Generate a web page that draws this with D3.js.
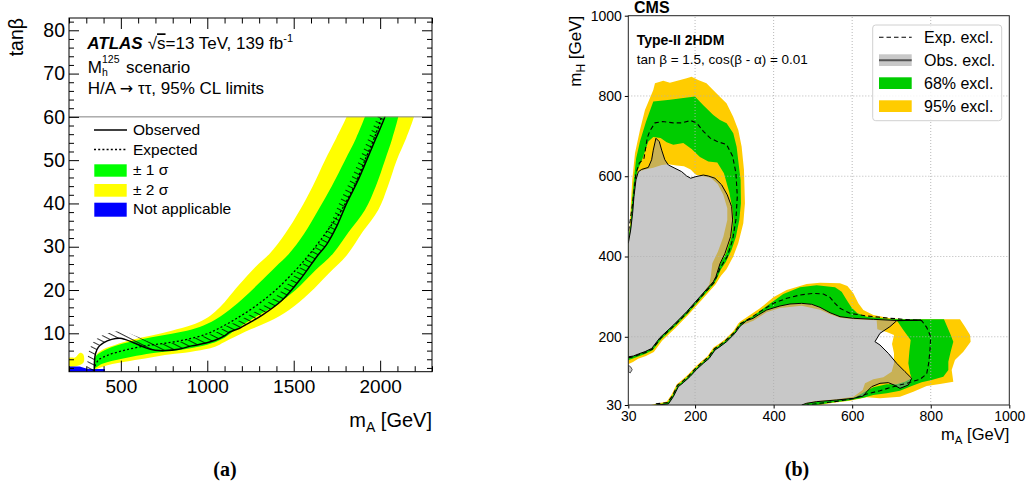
<!DOCTYPE html>
<html>
<head>
<meta charset="utf-8">
<script src="https://cdn.jsdelivr.net/npm/d3@7"></script>
<style>
  body { margin: 0; background: #fff; }
  svg { display: block; font-family: "Liberation Sans", Arial, Helvetica, sans-serif; }
</style>
</head>
<body>
<svg width="1029" height="489"></svg>
<script>
// ---------- (a) ATLAS H/A -> tautau, points are [mA GeV, tanBeta]
const obsA = [[346.6,1.13],[346.6,2.5],[348,3.8],[354,5.4],[370,6.8],[399,7.8],[447,8.6],[495,8.85],[524,8.6],[582,7.7],[640,6.7],[698,6.1],[755,6.0],[833,6.3],[910,7.1],[987,7.7],[1045,8.4],[1100,9.4],[1130,10.3],[1183,11.1],[1250,12.6],[1318,14.2],[1434,17.7],[1550,23.1],[1633,27.7],[1690,30.5],[1752,35],[1806,40],[1868,45],[1922,50],[1975,55],[2027,60],[2035,61.5]];
const expA = [[350,2.4],[370,3.8],[428,5.0],[524,6.1],[640,7.1],[755,7.7],[871,8.5],[987,9.7],[1060,11],[1164,13.3],[1280,16.3],[1396,20],[1511,24.6],[1600,28.7],[1700,34],[1777,38.5],[1850,44],[1912,50],[1965,55],[2008,60],[2016,61.5]];
const band68UpA = [[350,2.8],[354,4.6],[389,5.75],[466,7.06],[563,8.1],[678,9.1],[794,9.9],[910,10.9],[1000,12.2],[1100,14.6],[1200,17.8],[1300,21.6],[1396,25.4],[1469,28.2],[1560,33],[1642,38.5],[1720,44],[1797,50],[1860,55],[1912,60],[1925,61.5]];
const band68LoA = [[350,1.9],[389,2.9],[466,3.8],[563,4.6],[678,5.4],[794,5.9],[910,6.6],[1026,7.7],[1100,9.0],[1164,10.8],[1280,13.8],[1396,16.5],[1511,20],[1627,24.6],[1729,28.5],[1820,33.5],[1912,38.5],[1975,44],[2028,50],[2070,55],[2105,60],[2112,61.5]];
const band95UpA = [[348,2.8],[358,5.0],[399,6.3],[466,7.3],[563,8.5],[678,9.5],[794,10.6],[910,11.9],[987,13.3],[1045,15.0],[1100,17.2],[1164,20.3],[1280,25.4],[1363,28.5],[1450,33],[1536,38.5],[1610,44],[1681,50],[1745,55],[1806,60],[1818,61.5]];
const band95LoA = [[350,1.6],[428,2.7],[524,3.45],[640,4.2],[755,5.0],[871,5.5],[987,6.3],[1045,6.9],[1100,8.0],[1222,10.4],[1357,12.7],[1473,15.4],[1588,19.2],[1704,23.9],[1806,28],[1900,33.5],[1989,38.5],[2045,44],[2096,50],[2150,55],[2196,60],[2205,61.5]];
const blobA = [[200,2.3],[230,2.3],[260,2.6],[283,3.2],[288,4.2],[281,5.2],[266,5.5],[250,5.0],[235,4.4],[200,4.3]];
const notApplicableA = [[200,1.13],[200,2.35],[262,2.35],[290,2.0],[312,1.75],[408,1.75],[408,1.13]];
const xTicksA = [500, 1000, 1500, 2000];
const yTicksA = [10, 20, 30, 40, 50, 60, 70, 80];
const legendA = ["Observed", "Expected", "\u00b1 1 \u03c3", "\u00b1 2 \u03c3", "Not applicable"];

// ---------- (b) CMS type-II 2HDM, points are [mA, mH] in GeV
// upper island (touches the left edge)
const uiObsB = [[30,150],[42.8,152],[55.5,157],[72.6,163],[89.6,171],[110.8,198],[144.7,229],[178.7,262.5],[212.5,299.9],[246.4,337],[253,349.8],[263.4,382],[276,407.5],[290.5,449.4],[295.6,491],[293,524.6],[282,553.5],[267.6,578.6],[250.6,595],[233.7,600.6],[221,603],[202,599],[188.7,595],[178.5,600.7],[165.8,611.5],[148.8,619.8],[132,628],[123,641],[115,665],[109,686],[100.4,694.6],[93.6,665],[89.4,641],[81,622],[64,617],[55.5,611],[49.5,591],[44.4,549],[41,508],[36,466],[30,433]];
const uiY95OutB = [[20,128],[42,137],[55,145],[75,152],[95,162],[116,190],[150,222],[184,256],[218,293],[252,330],[266,352],[280,368],[297,399.7],[310,433],[322.8,482.7],[327,532.6],[324.5,616],[318.5,674],[310,715],[297,748.5],[280,782],[263,798],[246,815],[229,832],[208,840],[191,848],[178.5,844],[136,833],[119,838],[97.9,831.6],[93.6,815],[72.4,765],[59.7,715.3],[47,657],[40,590],[36.5,532],[34,480],[30,433],[20,433]];
const uiG68OutB = [[20,138],[42,146],[55.5,151],[74,158],[92.6,167],[113.8,194],[147.7,225],[181.7,258.5],[215.5,296],[249,333],[258,350],[266,368],[278.6,387],[293,416.6],[304,449.4],[312.6,491],[316.8,532.6],[316,590.7],[311.7,624],[305.8,673.6],[297.3,707],[280.3,731.8],[263.4,740],[246.4,752.5],[221,777],[199.7,798.4],[136,790.8],[93.6,786],[75,736],[59.7,686.6],[50,645],[44,590],[39,532],[36,480],[30,445],[20,445]];
const uiG68InB = [[30,150],[42.8,152],[55.5,157],[72.6,163],[89.6,171],[110.8,198],[144.7,229],[178.7,262.5],[212.5,299.9],[246.4,337],[253,349.8],[264,382],[279,408],[293,449],[298,491],[295,520],[287,560],[273.5,607.5],[256.6,634.3],[233.7,637],[212.4,647.7],[191.2,667.7],[170,682.8],[144.6,678.7],[127.6,684.5],[112.3,695.3],[93.6,697.8],[81,686.6],[66.5,645],[53,613],[47,574],[42,516],[36.5,466],[30,437]];
const uiY95InB = [[30,150],[42.8,152],[55.5,157],[72.6,163],[89.6,171],[110.8,198],[144.7,229],[178.7,262.5],[212.5,299.9],[236,330],[240,350],[244,383],[258,412],[272,449],[282,491],[282,520],[272,553],[258,580],[240,596],[216.7,600.6],[202,603.9],[188.7,616.6],[171.7,624.9],[153,627],[132,630],[115,628],[93.6,621],[72.4,617],[55.5,611],[49.5,591],[44.4,549],[41,508],[36,466],[30,433]];
const uiExpB = [[30,148],[43,150],[56,155],[74,161],[91,169],[112,196],[146,227],[180,260],[214,298],[248,335],[256,352],[263.4,370.6],[282,400],[295.6,441.6],[304,491.8],[307.5,550],[304,608],[295.6,650],[280.3,678.9],[255,687],[238,695.6],[221,712],[204,733],[188.7,738.6],[165.8,733],[144.6,733],[117.4,736.3],[98,733],[85,713],[78.4,696],[70,645],[58,632.6],[49.5,607.5],[41,532.6],[32.5,474.4],[30,460]];
const uiNotchB = [[30,129],[36,125],[40,118],[35,110],[30,113]];
// lower island (touches the bottom edge)
const liObsB = [[102.2,30],[132,32.5],[144.6,50.7],[157.4,75.7],[170,85.6],[187,100.6],[204,118.8],[221,133.8],[236,146.2],[250.7,167],[263.4,175.3],[280.3,187.8],[301.6,208.6],[314.4,226],[331,240],[348,246],[361,254.3],[382.3,266.7],[416,276.7],[441.7,281.7],[471.4,283.3],[497,280.9],[518,273.4],[543.5,260],[569,250.1],[603,246],[654,243.5],[713.3,240.5],[775,241.5],[713.3,240],[696,225.2],[670.8,208.6],[658,187.8],[670.8,179.5],[692,158.8],[713.3,133.8],[734.5,113],[751.4,96.5],[743,79.8],[721.7,71.5],[706.5,79.8],[692,85.7],[670.8,84],[649.6,75.7],[636.9,63.2],[628.4,52.4],[603,46.6],[560.5,42.5],[509.6,38.3],[484,34.2],[471.4,30]];
const liY95OutB = [[88,20],[88,30],[128,38.5],[140.6,56.7],[153.4,81.7],[166,91.6],[183,106.6],[200,124.8],[217,139.8],[232,152.2],[246.7,173],[259.4,181.3],[276.3,193.8],[297.6,214.6],[310,233],[314.4,237.7],[339.9,254.3],[365.3,270.9],[399.3,298.3],[433.2,316.6],[484.1,331.5],[518,334.8],[569,333.2],[587.7,326.5],[603,308.3],[615.7,283.3],[628.4,266.7],[653.8,254.3],[696.3,246],[738.7,243.5],[874.5,243.5],[887.2,225.2],[900,204.4],[901.6,187.8],[883,162.9],[861.7,142.2],[853.3,117.2],[857.5,88.2],[823.6,82.3],[789.6,77.4],[755.7,63.2],[721.7,50.8],[670.8,46.6],[636.9,49.1],[594.4,40.8],[552,35.8],[518,30],[518,20]];
const liG68OutB = [[95,20],[95,30],[130,35.5],[142.6,53.7],[155.4,78.7],[168,88.6],[185,103.6],[202,121.8],[219,136.8],[234,149.2],[248.7,170],[261.4,178.3],[278.3,190.8],[299.6,211.6],[312.4,230],[314.4,233.5],[348.3,251.8],[382.3,276.7],[424.7,306.6],[467.1,323.2],[509.6,328.2],[556.3,323.2],[573.2,312.4],[586,291.6],[598.7,272.5],[613.1,258.4],[636.9,250.1],[696.3,244.3],[738.7,243.5],[833.7,243.5],[849,208.6],[857.5,187.8],[850.7,162.9],[844.8,138],[844.8,117.2],[832,100.6],[802.3,92.3],[776.9,86.5],[751.4,77.4],[721.7,65.7],[687.8,59.1],[653.8,54.9],[628.4,48.3],[586,40.8],[543.5,35.8],[509.6,30],[509.6,20]];
const liG68InB = [[102.2,30],[132,32.5],[144.6,50.7],[157.4,75.7],[170,85.6],[187,100.6],[204,118.8],[221,133.8],[236,146.2],[250.7,167],[263.4,175.3],[280.3,187.8],[301.6,208.6],[314.4,226],[331,240],[348,246],[361,254.3],[382.3,266.7],[416,276.7],[441.7,281.7],[471.4,283.3],[497,280.9],[518,273.4],[543.5,260],[569,250.1],[603,246],[654,243.5],[713,241.5],[730.2,216.9],[748.9,192],[745.5,162.9],[743,133.8],[747.2,108.9],[751.4,96.5],[734.5,88.2],[713.3,81.5],[687.8,81.5],[653.8,74],[632.6,63.2],[603,46.6],[560.5,42.5],[509.6,38.3],[484,34.2],[471.4,30]];
const liY95InB = [[102.2,30],[132,32.5],[144.6,50.7],[157.4,75.7],[170,85.6],[187,100.6],[204,118.8],[221,133.8],[236,146.2],[250.7,167],[263.4,175.3],[280.3,187.8],[301.6,208.6],[314.4,226.9],[348.3,240.2],[382.3,260.9],[416.2,271.7],[471.4,277.5],[518.1,267.6],[543.5,256],[569,247.6],[603,243.5],[662.3,241],[664,218.6],[687.8,211.9],[706.5,204.4],[701.4,182],[706.5,158.8],[706.5,133.8],[700.5,113.1],[679.3,99],[653.8,94],[632.6,84],[626.7,67.4],[603,50.8],[560.5,44.1],[509.6,40],[484,35.8],[471.4,30]];
const liExpB = [[100,33],[130,36],[143,54],[155,79],[168,89],[185,104],[202,122],[219,137],[234,150],[249,170],[261,178],[278,191],[300,211],[314.4,231.8],[339.9,246],[365.3,262.6],[399.3,283.3],[433.2,295.8],[467.1,304.1],[501.1,308.3],[526.6,306.6],[543.5,298.3],[556.3,283.3],[569,270.9],[594.4,258.4],[636.9,251.8],[696.3,246],[755.7,241.8],[776.9,240.2],[789.6,223.5],[799.8,200.3],[798.1,167],[794.7,133.8],[789.6,107.3],[772.6,94],[738.7,84],[704.8,75.7],[670.8,65.7],[636.9,57.4],[603,45.8],[560.5,39.1],[518,34.2],[484.1,30]];
const ticksB = [30, 200, 400, 600, 800, 1000];
const gridB = [200, 400, 600, 800];
const legendB = ["Exp. excl.", "Obs. excl.", "68% excl.", "95% excl."];

const font = '"Liberation Sans", Arial, Helvetica, sans-serif';
const svg = d3.select("svg");
const defs = svg.append("defs");

// ================= panel (a) =================
const xA = d3.scaleLinear().domain([200, 2300]).range([69, 432]);
const yA = d3.scaleLinear().domain([1.13, 82.84]).range([371.7, 18]);

defs.append("clipPath").attr("id", "clipA").append("rect")
  .attr("x", xA(200)).attr("y", yA(60))
  .attr("width", xA(2300) - xA(200)).attr("height", yA(1.13) - yA(60));

const hatch = defs.append("pattern").attr("id", "hatch")
  .attr("patternUnits", "userSpaceOnUse").attr("width", 5).attr("height", 5)
  .attr("patternTransform", "rotate(27)");
hatch.append("line").attr("x1", 0).attr("x2", 5).attr("y1", 2.5).attr("y2", 2.5)
  .attr("stroke", "#000").attr("stroke-width", 0.8);

const smoothA = d3.line().x(d => xA(d[0])).y(d => yA(d[1])).curve(d3.curveCatmullRom.alpha(0.5));
const plotA = svg.append("g").attr("clip-path", "url(#clipA)");

function bandA(up, lo, color) {
  plotA.append("path").attr("d", smoothA(up.concat(lo.slice().reverse())) + "Z").attr("fill", color);
}
bandA(band95UpA, band95LoA, "#ffff00");
bandA(band68UpA, band68LoA, "#00ff00");

plotA.append("path")
  .attr("d", d3.line().x(d => xA(d[0])).y(d => yA(d[1])).curve(d3.curveCatmullRomClosed)(blobA))
  .attr("fill", "#ffff00");
plotA.append("path")
  .attr("d", d3.line().x(d => xA(d[0])).y(d => yA(d[1])).curve(d3.curveLinearClosed)(notApplicableA))
  .attr("fill", "#0000ff");

// observed line, then a hatched strip on its excluded side
const obsPath = plotA.append("path").attr("d", smoothA(obsA))
  .attr("fill", "none").attr("stroke", "#000").attr("stroke-width", 1.5);
const node = obsPath.node();
const total = node.getTotalLength();
const W = 7;
const fwd = [], off = [];
for (let s = 0; s <= total; s += 1) {
  const p = node.getPointAtLength(s);
  const p0 = node.getPointAtLength(Math.max(0, s - 2));
  const p1 = node.getPointAtLength(Math.min(total, s + 2));
  let tx = p1.x - p0.x, ty = p1.y - p0.y;
  const n = Math.hypot(tx, ty) || 1;
  tx /= n; ty /= n;
  fwd.push([p.x, p.y]);
  off.push([p.x + ty * W, p.y - tx * W]);
}
plotA.insert("path", () => node)
  .attr("d", d3.line()(fwd.concat(off.reverse())) + "Z")
  .attr("fill", "url(#hatch)");

plotA.append("path").attr("d", smoothA(expA))
  .attr("fill", "none").attr("stroke", "#000").attr("stroke-width", 1.3)
  .attr("stroke-dasharray", "2,2.2");

// separator of the header area
svg.append("line").attr("x1", xA(200)).attr("x2", xA(2300)).attr("y1", yA(60)).attr("y2", yA(60))
  .attr("stroke", "#808080").attr("stroke-width", 1);

// ROOT style axes, ticks on all four sides pointing inward
function styleAxis(g, size) {
  g.select(".domain").remove();
  g.selectAll("line").attr("stroke", "#000");
  g.selectAll("text").attr("font-size", size).attr("font-family", font).attr("fill", "#000");
}
const minorXA = d3.range(200, 2301, 100).filter(v => v % 500 !== 0);
const minorYA = d3.range(2, 83, 2).filter(v => v % 10 !== 0);
const bottomA = yA.range()[0], topA = yA.range()[1];
const leftA = xA.range()[0], rightA = xA.range()[1];

svg.append("g").attr("transform", `translate(0,${bottomA})`)
  .call(d3.axisBottom(xA).tickValues(xTicksA).tickSize(-11).tickPadding(8).tickFormat(d3.format("d")))
  .call(g => styleAxis(g, 19));
svg.append("g").attr("transform", `translate(0,${bottomA})`)
  .call(d3.axisBottom(xA).tickValues(minorXA).tickSize(-5.5).tickFormat(""))
  .call(g => styleAxis(g, 19));
svg.append("g").attr("transform", `translate(0,${topA})`)
  .call(d3.axisTop(xA).tickValues(xTicksA).tickSize(-11).tickFormat(""))
  .call(g => styleAxis(g, 19));
svg.append("g").attr("transform", `translate(0,${topA})`)
  .call(d3.axisTop(xA).tickValues(minorXA).tickSize(-5.5).tickFormat(""))
  .call(g => styleAxis(g, 19));
svg.append("g").attr("transform", `translate(${leftA},0)`)
  .call(d3.axisLeft(yA).tickValues(yTicksA).tickSize(-10).tickPadding(4))
  .call(g => styleAxis(g, 19.5));
svg.append("g").attr("transform", `translate(${leftA},0)`)
  .call(d3.axisLeft(yA).tickValues(minorYA).tickSize(-5).tickFormat(""))
  .call(g => styleAxis(g, 19));
svg.append("g").attr("transform", `translate(${rightA},0)`)
  .call(d3.axisRight(yA).tickValues(yTicksA).tickSize(-10).tickFormat(""))
  .call(g => styleAxis(g, 19));
svg.append("g").attr("transform", `translate(${rightA},0)`)
  .call(d3.axisRight(yA).tickValues(minorYA).tickSize(-5).tickFormat(""))
  .call(g => styleAxis(g, 19));
svg.append("rect").attr("x", leftA).attr("y", topA)
  .attr("width", rightA - leftA).attr("height", bottomA - topA)
  .attr("fill", "none").attr("stroke", "#000").attr("stroke-width", 1);

// axis titles (a)
const tA = svg.append("text").attr("x", rightA).attr("y", 427).attr("text-anchor", "end")
  .attr("font-size", 20).attr("font-family", font);
tA.append("tspan").text("m");
tA.append("tspan").attr("dy", 5).attr("font-size", 14).text("A");
tA.append("tspan").attr("dy", -5).text(" [GeV]");
svg.append("text").attr("transform", `translate(22.7,${topA}) rotate(-90)`)
  .attr("text-anchor", "end").attr("font-size", 19.5).attr("font-family", font).text("tan\u03b2");

// header text (a)
const h1 = svg.append("text").attr("x", 87.3).attr("y", 49.3).attr("font-size", 17).attr("font-family", font);
h1.append("tspan").attr("font-weight", "bold").attr("font-style", "italic").text("ATLAS");
h1.append("tspan").attr("x", 147.7).text("\u221a");
h1.append("tspan").attr("text-decoration", "overline").text("s");
h1.append("tspan").text("=13 TeV, 139 fb");
h1.append("tspan").attr("dy", -7).attr("font-size", 11).text("-1");
const h2 = svg.append("text").attr("x", 87.7).attr("y", 72.5).attr("font-size", 17).attr("font-family", font);
h2.append("tspan").text("M");
h2.append("tspan").attr("x", 102).attr("y", 63).attr("font-size", 10.5).text("125");
h2.append("tspan").attr("x", 102).attr("y", 76).attr("font-size", 10.5).text("h");
h2.append("tspan").attr("x", 126).attr("y", 72.5).text("scenario");
const h3 = svg.append("text").attr("x", 87.7).attr("y", 94).attr("font-size", 17).attr("font-family", font);
h3.append("tspan").text("H/A ");
h3.append("tspan").attr("font-family", '"DejaVu Sans", sans-serif').attr("font-size", 16).text("\u2192");
h3.append("tspan").text(" \u03c4\u03c4, 95% CL limits");

// legend (a)
const legA = svg.append("g").attr("font-family", font).attr("font-size", 15.5);
const rowsA = [135, 154.5, 175, 194.5, 213.5];
legA.append("line").attr("x1", 94).attr("x2", 127).attr("y1", 130).attr("y2", 130)
  .attr("stroke", "#000").attr("stroke-width", 1.5);
legA.append("line").attr("x1", 94).attr("x2", 127).attr("y1", 149.5).attr("y2", 149.5)
  .attr("stroke", "#000").attr("stroke-width", 1.3).attr("stroke-dasharray", "2,2.2");
legA.append("rect").attr("x", 94.3).attr("y", 164.3).attr("width", 32.4).attr("height", 12.4).attr("fill", "#00ff00");
legA.append("rect").attr("x", 94.3).attr("y", 184).attr("width", 32.4).attr("height", 12.7).attr("fill", "#ffff00");
legA.append("rect").attr("x", 94.3).attr("y", 202.7).attr("width", 32.4).attr("height", 14).attr("fill", "#0000ff");
legendA.forEach((t, i) => legA.append("text").attr("x", 133).attr("y", rowsA[i]).text(t));

svg.append("text").attr("x", 225).attr("y", 476).attr("text-anchor", "middle")
  .attr("font-family", '"Liberation Serif", "Times New Roman", serif')
  .attr("font-weight", "bold").attr("font-size", 20).text("(a)");

// ================= panel (b) =================
const xB = d3.scaleLinear().domain([30, 1000]).range([628.3, 1009.3]);
const yB = d3.scaleLinear().domain([30, 1000]).range([405, 15.7]);

defs.append("clipPath").attr("id", "clipB").append("rect")
  .attr("x", xB(30)).attr("y", yB(1000))
  .attr("width", xB(1000) - xB(30)).attr("height", yB(30) - yB(1000));

const ringB = d3.line().x(d => xB(d[0])).y(d => yB(d[1])).curve(d3.curveLinearClosed);
const lineB = d3.line().x(d => xB(d[0])).y(d => yB(d[1]));
const plotB = svg.append("g").attr("clip-path", "url(#clipB)");

function bandB(outer, inner, color) {
  plotB.append("path").attr("d", ringB(outer) + ringB(inner))
    .attr("fill-rule", "evenodd").attr("fill", color);
}
bandB(uiY95OutB, uiY95InB, "#ffcc00");
bandB(uiG68OutB, uiG68InB, "#00cc00");
bandB(liY95OutB, liY95InB, "#ffcc00");
bandB(liG68OutB, liG68InB, "#00cc00");

[uiObsB, liObsB, uiNotchB].forEach(p => {
  plotB.append("path").attr("d", ringB(p)).attr("fill", "#9a9a9a").attr("fill-opacity", 0.55);
});

// dotted grid over the filled areas
gridB.forEach(v => {
  plotB.append("line").attr("x1", xB(v)).attr("x2", xB(v)).attr("y1", yB(30)).attr("y2", yB(1000))
    .attr("stroke", "#b0b0b0").attr("stroke-width", 0.9).attr("stroke-dasharray", "1,2");
  plotB.append("line").attr("y1", yB(v)).attr("y2", yB(v)).attr("x1", xB(30)).attr("x2", xB(1000))
    .attr("stroke", "#b0b0b0").attr("stroke-width", 0.9).attr("stroke-dasharray", "1,2");
});

[uiObsB, liObsB].forEach(p => {
  plotB.append("path").attr("d", lineB(p)).attr("fill", "none").attr("stroke", "#000").attr("stroke-width", 1);
});
plotB.append("path").attr("d", ringB(uiNotchB)).attr("fill", "none").attr("stroke", "#333").attr("stroke-width", 0.8);
[uiExpB, liExpB].forEach(p => {
  plotB.append("path").attr("d", lineB(p)).attr("fill", "none").attr("stroke", "#000")
    .attr("stroke-width", 1.1).attr("stroke-dasharray", "4.5,3");
});

// matplotlib style axes
svg.append("g").attr("transform", `translate(0,${yB(30)})`)
  .call(d3.axisBottom(xB).tickValues(ticksB).tickSize(3.5).tickPadding(3).tickFormat(d3.format("d")))
  .call(g => styleAxis(g, 14));
svg.append("g").attr("transform", `translate(${xB(30)},0)`)
  .call(d3.axisLeft(yB).tickValues(ticksB).tickSize(3.5).tickPadding(3).tickFormat(d3.format("d")))
  .call(g => styleAxis(g, 14));
svg.append("rect").attr("x", xB(30)).attr("y", yB(1000))
  .attr("width", xB(1000) - xB(30)).attr("height", yB(30) - yB(1000))
  .attr("fill", "none").attr("stroke", "#222").attr("stroke-width", 1);

const tB = svg.append("text").attr("x", xB(1000)).attr("y", 440).attr("text-anchor", "end")
  .attr("font-size", 16.5).attr("font-family", font);
tB.append("tspan").text("m");
tB.append("tspan").attr("dy", 4).attr("font-size", 11.5).text("A");
tB.append("tspan").attr("dy", -4).text(" [GeV]");
const tH = svg.append("text").attr("transform", `translate(581,${yB(1000)}) rotate(-90)`)
  .attr("text-anchor", "end").attr("font-size", 17).attr("font-family", font);
tH.append("tspan").text("m");
tH.append("tspan").attr("dy", 4).attr("font-size", 12).text("H");
tH.append("tspan").attr("dy", -4).text(" [GeV]");

svg.append("text").attr("x", 634).attr("y", 13.3).attr("font-family", font)
  .attr("font-weight", "bold").attr("font-size", 16).text("CMS");
svg.append("text").attr("x", 636.7).attr("y", 45).attr("font-family", font)
  .attr("font-weight", "bold").attr("font-size", 14).text("Type-II 2HDM");
svg.append("text").attr("x", 636.7).attr("y", 63.5).attr("font-family", font)
  .attr("font-size", 13.5).text("tan \u03b2 = 1.5, cos(\u03b2 - \u03b1) = 0.01");

// legend (b)
const legB = svg.append("g").attr("font-family", font).attr("font-size", 16);
legB.append("rect").attr("x", 872.7).attr("y", 25).attr("width", 129).attr("height", 95.7).attr("rx", 3)
  .attr("fill", "#fff").attr("fill-opacity", 0.8).attr("stroke", "#d0d0d0");
legB.append("line").attr("x1", 879).attr("x2", 911.7).attr("y1", 37.3).attr("y2", 37.3)
  .attr("stroke", "#000").attr("stroke-width", 1.1).attr("stroke-dasharray", "4.5,3");
legB.append("rect").attr("x", 879).attr("y", 54.3).attr("width", 32.7).attr("height", 11.7).attr("fill", "#c8c8c8");
legB.append("line").attr("x1", 879).attr("x2", 911.7).attr("y1", 60.2).attr("y2", 60.2)
  .attr("stroke", "#555").attr("stroke-width", 2);
legB.append("rect").attr("x", 879).attr("y", 77.3).attr("width", 32.7).attr("height", 11.7).attr("fill", "#00cc00");
legB.append("rect").attr("x", 879).attr("y", 100.3).attr("width", 32.7).attr("height", 11.7).attr("fill", "#ffcc00");
const rowsB = [43.2, 66, 89, 111.8];
legendB.forEach((t, i) => legB.append("text").attr("x", 924).attr("y", rowsB[i]).text(t));

svg.append("text").attr("x", 797).attr("y", 476).attr("text-anchor", "middle")
  .attr("font-family", '"Liberation Serif", "Times New Roman", serif')
  .attr("font-weight", "bold").attr("font-size", 20).text("(b)");
</script>
</body>
</html>
